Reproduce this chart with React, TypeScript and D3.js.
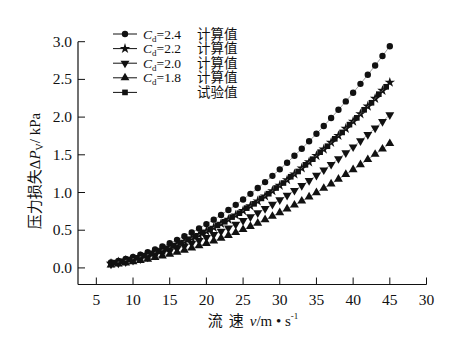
import * as d3 from "d3";

// velocities used for the computed curves (m/s)
const velocity = [
  7, 8, 9, 10, 11, 12, 13, 14, 15, 16, 17, 18, 19, 20, 21, 22, 23, 24, 25, 26,
  27, 28, 29, 30, 31, 32, 33, 34, 35, 36, 37, 38, 39, 40, 41, 42, 43, 44, 45,
];

const cd24 = [
  0.071, 0.093, 0.118, 0.145, 0.176, 0.209, 0.245, 0.285, 0.327, 0.372, 0.42,
  0.47, 0.524, 0.581, 0.64, 0.703, 0.768, 0.836, 0.908, 0.982, 1.059, 1.138,
  1.221, 1.307, 1.395, 1.487, 1.581, 1.679, 1.779, 1.882, 1.988, 2.097, 2.208,
  2.323, 2.441, 2.561, 2.685, 2.811, 2.94,
];

const cd22 = [
  0.06, 0.078, 0.098, 0.121, 0.147, 0.175, 0.205, 0.238, 0.273, 0.311, 0.351,
  0.394, 0.439, 0.486, 0.536, 0.588, 0.643, 0.7, 0.759, 0.821, 0.886, 0.952,
  1.022, 1.093, 1.167, 1.244, 1.323, 1.404, 1.488, 1.574, 1.663, 1.754, 1.848,
  1.944, 2.042, 2.143, 2.246, 2.352, 2.46,
];

const cd20 = [
  0.049, 0.064, 0.081, 0.1, 0.121, 0.144, 0.169, 0.196, 0.226, 0.257, 0.29,
  0.325, 0.362, 0.401, 0.442, 0.485, 0.53, 0.577, 0.627, 0.678, 0.731, 0.786,
  0.843, 0.902, 0.963, 1.027, 1.092, 1.159, 1.228, 1.299, 1.372, 1.448, 1.525,
  1.604, 1.685, 1.768, 1.854, 1.941, 2.03,
];

const cd18 = [
  0.04, 0.052, 0.066, 0.081, 0.099, 0.117, 0.138, 0.16, 0.183, 0.209, 0.235,
  0.264, 0.294, 0.326, 0.359, 0.394, 0.431, 0.469, 0.509, 0.551, 0.594, 0.639,
  0.685, 0.733, 0.783, 0.834, 0.887, 0.942, 0.998, 1.056, 1.115, 1.177, 1.239,
  1.304, 1.37, 1.437, 1.507, 1.577, 1.65,
];

// measured points
const expVelocity = [
  7.5, 8.5, 9.5, 10.5, 11.5, 12.5, 13.5, 14.5, 15.5, 16.5, 17.5, 18.5, 19.5,
  20.5, 21.5, 22.5, 23.5, 24.5, 25.5, 26.5, 27.5, 28.5, 29.5, 30.5, 31.5, 32.5,
  33.5, 34.5, 35.5, 36.5, 37.5, 38.5, 39.5, 40.5, 41.5, 42.5, 43.5, 44.5,
];

const expValues = [
  0.07, 0.087, 0.112, 0.133, 0.163, 0.188, 0.223, 0.254, 0.294, 0.329, 0.375,
  0.414, 0.465, 0.509, 0.565, 0.612, 0.674, 0.726, 0.793, 0.85, 0.922, 0.984,
  1.06, 1.126, 1.209, 1.279, 1.367, 1.442, 1.535, 1.614, 1.712, 1.797, 1.9,
  1.99, 2.097, 2.19, 2.304, 2.402,
];

const xTickValues = [5, 10, 15, 20, 25, 30, 35, 40, 45, 50];
const xTickLabels = ["5", "10", "15", "20", "25", "30", "35", "40", "45", "30"];
const yTickValues = [0, 0.5, 1, 1.5, 2, 2.5, 3];
const yTickLabels = ["0.0", "0.5", "1.0", "1.5", "2.0", "2.5", "3.0"];

const W = 476;
const H = 353;
const FONT = "'Liberation Serif', 'Times New Roman', 'Noto Sans CJK SC', serif";

const x = d3.scaleLinear().domain([2.5, 50]).range([78, 426.5]);
const y = d3.scaleLinear().domain([-0.22, 3]).range([284.5, 41.7]);

type Series = {
  cd: string | null;
  label: string;
  xs: number[];
  ys: number[];
  symbol: d3.SymbolType;
  size: number;
  flip: boolean;
};

const series: Series[] = [
  { cd: "2.4", label: "计算值", xs: velocity, ys: cd24, symbol: d3.symbolCircle, size: 32, flip: false },
  { cd: "2.2", label: "计算值", xs: velocity, ys: cd22, symbol: d3.symbolStar, size: 34, flip: false },
  { cd: "2.0", label: "计算值", xs: velocity, ys: cd20, symbol: d3.symbolTriangle, size: 34, flip: true },
  { cd: "1.8", label: "计算值", xs: velocity, ys: cd18, symbol: d3.symbolTriangle, size: 34, flip: false },
  { cd: null, label: "试验值", xs: expVelocity, ys: expValues, symbol: d3.symbolSquare, size: 32, flip: false },
];

const lineGen = d3
  .line<[number, number]>()
  .x((d) => x(d[0]))
  .y((d) => y(d[1]));

function Marker({ s, cx, cy }: { s: Series; cx: number; cy: number }) {
  const path = d3.symbol().type(s.symbol).size(s.size)() ?? "";
  const rot = s.flip ? " rotate(180)" : "";
  return <path d={path} transform={`translate(${cx},${cy})${rot}`} fill="#111" />;
}

export default function App() {
  const x0 = x.range()[0];
  const x1 = x.range()[1];
  const yBottom = y.range()[0];
  const yTop = y(3);

  return (
    <div style={{ position: "fixed", left: 0, top: 0 }}>
      <svg width={W} height={H} style={{ display: "block", background: "#fff" }} fontFamily={FONT}>
        {/* curves */}
        {series.map((s, i) => (
          <g key={i}>
            <path
              d={lineGen(s.xs.map((v, j) => [v, s.ys[j]] as [number, number])) ?? ""}
              fill="none"
              stroke="#777"
              strokeWidth={0.7}
            />
            {s.xs.map((v, j) => (
              <Marker key={j} s={s} cx={x(v)} cy={y(s.ys[j])} />
            ))}
          </g>
        ))}

        {/* axes */}
        <line x1={x0} x2={x0} y1={yTop} y2={yBottom} stroke="#111" strokeWidth={1.2} />
        <line x1={x0} x2={x1} y1={yBottom} y2={yBottom} stroke="#111" strokeWidth={1.2} />
        {yTickValues.map((t, i) => (
          <g key={t}>
            <line x1={x0} x2={x0 + 7} y1={y(t)} y2={y(t)} stroke="#111" strokeWidth={1} />
            <text x={x0 - 6} y={y(t) + 5} textAnchor="end" fontSize={15.5} fill="#111">
              {yTickLabels[i]}
            </text>
          </g>
        ))}
        {xTickValues.map((t, i) => (
          <g key={t}>
            <line x1={x(t)} x2={x(t)} y1={yBottom} y2={yBottom - 7} stroke="#111" strokeWidth={1} />
            <text x={x(t)} y={305} textAnchor="middle" fontSize={15.5} fill="#111">
              {xTickLabels[i]}
            </text>
          </g>
        ))}

        {/* axis titles */}
        <text x={253} y={326} textAnchor="middle" fontSize={15} fill="#111">
          <tspan>流</tspan>
          <tspan dx={6}>速</tspan>
          <tspan dx={6} fontStyle="italic">v</tspan>
          <tspan>/m • s</tspan>
          <tspan fontSize={9} dy={-7}>-1</tspan>
        </text>
        <text
          transform="translate(40,171) rotate(-90)"
          textAnchor="middle"
          fontSize={15}
          fill="#111"
        >
          <tspan>压力损失Δ</tspan>
          <tspan fontStyle="italic">P</tspan>
          <tspan fontSize={10} dy={3}>V</tspan>
          <tspan dy={-3}>/ kPa</tspan>
        </text>

        {/* legend */}
        {series.map((s, i) => {
          const ly = 34 + i * 14.6;
          return (
            <g key={i}>
              <line x1={113} x2={137} y1={ly} y2={ly} stroke="#111" strokeWidth={1} />
              <Marker s={s} cx={125} cy={ly} />
              {s.cd && (
                <text x={143} y={ly + 4.5} fontSize={13.5} fill="#111">
                  <tspan fontStyle="italic">C</tspan>
                  <tspan fontSize={9} baselineShift="-3">d</tspan>
                  <tspan>={s.cd}</tspan>
                </text>
              )}
              <text x={197} y={ly + 4.5} fontSize={13.5} fill="#111">
                {s.label}
              </text>
            </g>
          );
        })}
      </svg>
    </div>
  );
}
